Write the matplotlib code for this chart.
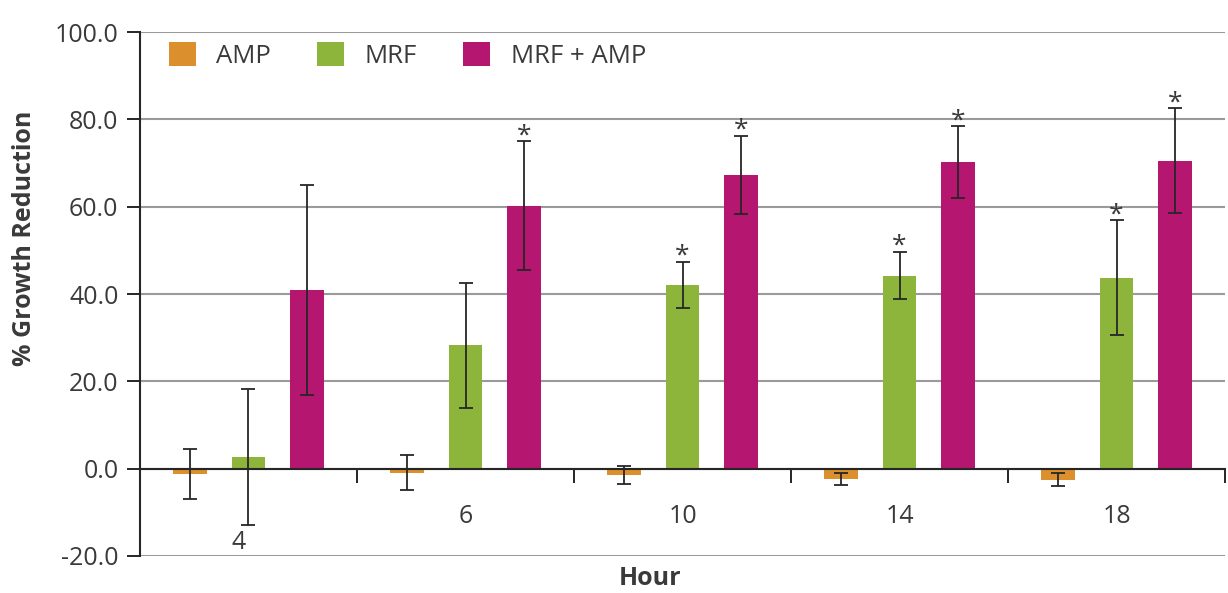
import numpy as np
import matplotlib
matplotlib.use("Agg")
import matplotlib.pyplot as plt
from matplotlib.patches import Patch

plt.rcParams['font.family'] = ['Open Sans', 'DejaVu Sans']

# Data
hours = ["4", "6", "10", "14", "18"]
series = ["AMP", "MRF", "MRF + AMP"]

amp = [-1.2, -0.9, -1.4, -2.4, -2.5]
amp_err = [5.7, 4.0, 2.0, 1.3, 1.4]
mrf = [2.7, 28.3, 42.0, 44.2, 43.7]
mrf_err = [15.5, 14.3, 5.3, 5.4, 13.2]
combo = [40.9, 60.2, 67.3, 70.2, 70.5]
combo_err = [24.0, 14.8, 8.9, 8.2, 12.0]

# significance markers (*)
amp_sig = [False, False, False, False, False]
mrf_sig = [False, False, True, True, True]
combo_sig = [False, True, True, True, True]

COLORS = ["#DC8F2D", "#8DB43B", "#B5166F"]
GRID = "#9a9a9a"
DARK = "#262626"
TEXT = "#3a3a3a"

fig = plt.figure(figsize=(12.28, 5.93), dpi=100)
ax = fig.add_axes([0.114, 0.0624, 0.8836, 0.8836])

x = np.arange(len(hours))
offset = 0.27
width = 0.155

values = [amp, mrf, combo]
errors = [amp_err, mrf_err, combo_err]
sigs = [amp_sig, mrf_sig, combo_sig]

for k, (vals, errs, sig, color) in enumerate(zip(values, errors, sigs, COLORS)):
    pos = x + (k - 1) * offset
    ax.bar(pos, vals, width=width, color=color, zorder=3)
    ax.errorbar(pos, vals, yerr=errs, fmt='none', ecolor=DARK,
                elinewidth=1.3, capsize=5, capthick=1.3, zorder=4)
    for p, v, e, s in zip(pos, vals, errs, sig):
        if s:
            ax.annotate("*", xy=(p, v + e), xytext=(0, -5), textcoords='offset points',
                        ha='center', va='bottom', fontsize=19, color=TEXT, zorder=5)

ax.set_xlim(-0.5, len(hours) - 0.5)
ax.set_ylim(-20, 100)
ax.set_yticks(np.arange(-20, 101, 20))
ax.set_yticklabels([f"{v:.1f}" for v in np.arange(-20, 101, 20)])
ax.yaxis.grid(True, color=GRID, lw=1.5, zorder=0)
ax.tick_params(axis='y', length=9.5, width=1.4, color=DARK, pad=6,
               labelsize=18, labelcolor=TEXT)

# x-axis sits on the zero line, ticks mark the group boundaries
ax.spines['bottom'].set_position(('data', 0))
ax.spines['bottom'].set_color(DARK)
ax.spines['bottom'].set_linewidth(1.5)
ax.spines['bottom'].set_zorder(4)
ax.spines['left'].set_color(DARK)
ax.spines['left'].set_linewidth(1.5)
ax.spines['top'].set_visible(False)
ax.spines['right'].set_visible(False)
ax.set_xticks(x)
ax.set_xticklabels([])
ax.set_xticks(np.arange(0.5, len(hours), 1.0), minor=True)
ax.tick_params(axis='x', which='major', length=0)
ax.tick_params(axis='x', which='minor', length=10, width=1.4, color=DARK)

for i, h in enumerate(hours):
    # first label is pushed down and left, clear of the long error bar
    dx, dy = (-7, -53) if i == 0 else (0, -34.5)
    ax.annotate(h, xy=(i, 0), xytext=(dx, dy), textcoords='offset points',
                ha='center', va='center', fontsize=18, color=TEXT)

ax.set_xlabel("Hour", fontsize=18, fontweight='bold', color=TEXT)
ax.xaxis.set_label_coords(0.47, -0.02)
ax.set_ylabel("% Growth Reduction", fontsize=18, fontweight='bold', color=TEXT)
ax.yaxis.set_label_coords(-0.095, 0.607)

handles = [Patch(facecolor=c, edgecolor='none') for c in COLORS]
ax.legend(handles, series, loc='upper left', ncol=3, frameon=False,
          fontsize=18.5, handlelength=1.05, handleheight=1.05, handletextpad=0.8,
          columnspacing=1.8, bbox_to_anchor=(0.005, 1.025), labelcolor=TEXT)

fig.savefig("out.png", dpi=100, facecolor='white')
